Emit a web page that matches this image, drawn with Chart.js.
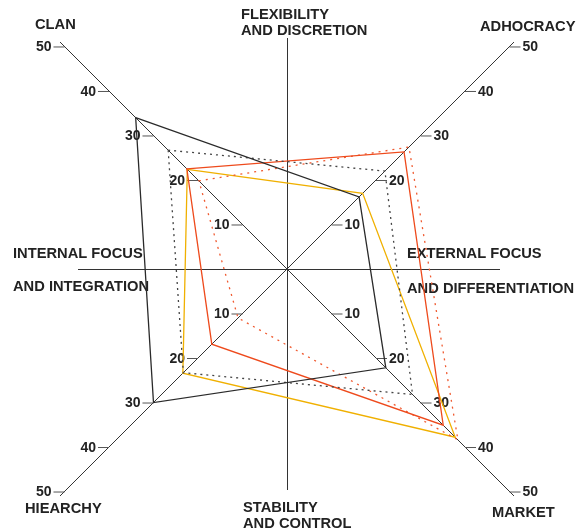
<!DOCTYPE html>
<html lang="en">
<head>
  <meta charset="UTF-8" />
  <title>Competing values profile</title>
  <style>
    * { box-sizing: border-box; margin: 0; padding: 0; }
    body { background: #ffffff; }
    .wrap { width: 578px; height: 531px; position: relative; }
  </style>
</head>
<body>
  <div class="wrap"><canvas id="cvf"></canvas></div>

  <script src="https://cdn.jsdelivr.net/npm/chart.js"></script>
  <script>
    // axes go clockwise from top-left
    const axes = ['CLAN', 'ADHOCRACY', 'MARKET', 'HIEARCHY'];
    const tickValues = [10, 20, 30, 40, 50];

    const blackSolid  = [34, 16.2, 22.2, 30];
    const blackDotted = [26.7, 22, 28.2, 23.3];
    const redSolid    = [22.5, 26.3, 35.1, 16.9];
    const redDotted   = [19.8, 27.4, 38.4, 11];
    const yellowSolid = [22.4, 17, 37.8, 23.4];

    const FONT = 'bold 14.7px "Liberation Sans", Arial, sans-serif';
    const TICK_FONT = 'bold 14px "Liberation Sans", Arial, sans-serif';

    // label text, left aligned, [text, x, baseline]
    const textItems = [
      ['CLAN', 35, 29],
      ['ADHOCRACY', 480, 31],
      ['MARKET', 492, 517],
      ['HIEARCHY', 25, 513],
      ['FLEXIBILITY', 241, 19],
      ['AND DISCRETION', 241, 35],
      ['STABILITY', 243, 512],
      ['AND CONTROL', 243, 528],
      ['INTERNAL FOCUS', 13, 258],
      ['AND INTEGRATION', 13, 291],
      ['EXTERNAL FOCUS', 407, 258],
      ['AND DIFFERENTIATION', 407, 293]
    ];

    const decor = {
      id: 'decor',
      beforeDatasetsDraw(chart) {
        const ctx = chart.ctx;
        const r = chart.scales.r;
        const cx = r.xCenter, cy = r.yCenter;
        ctx.save();

        // cross lines
        ctx.strokeStyle = '#333';
        ctx.lineWidth = 1;
        ctx.beginPath();
        ctx.moveTo(78, cy + 0.5); ctx.lineTo(500, cy + 0.5);
        ctx.moveTo(cx + 0.5, 38); ctx.lineTo(cx + 0.5, 490);
        ctx.stroke();

        // ticks on every axis
        ctx.font = TICK_FONT;
        ctx.textBaseline = 'middle';
        axes.forEach((a, i) => {
          const leftSide = (i === 0 || i === 3);
          tickValues.forEach(v => {
            const p = r.getPointPositionForValue(i, v);
            const dir = leftSide ? -1 : 1;
            ctx.strokeStyle = '#555';
            ctx.beginPath();
            ctx.moveTo(p.x, p.y + 0.5);
            ctx.lineTo(p.x + dir * 11, p.y + 0.5);
            ctx.stroke();
            ctx.fillStyle = '#222';
            ctx.textAlign = leftSide ? 'right' : 'left';
            ctx.fillText(String(v), p.x + dir * 13, p.y + 1);
          });
        });

        ctx.font = FONT;
        ctx.textAlign = 'left';
        ctx.textBaseline = 'alphabetic';
        ctx.fillStyle = '#222';
        textItems.forEach(t => ctx.fillText(t[0], t[1], t[2]));
        ctx.restore();
      }
    };

    const line = (label, data, color, dash) => ({
      label: label,
      data: data,
      borderColor: color,
      borderWidth: 1.3,
      borderDash: dash,
      fill: false,
      pointRadius: 0,
      tension: 0
    });

    new Chart(document.getElementById('cvf'), {
      type: 'radar',
      data: {
        labels: axes,
        datasets: [
          line('Black solid', blackSolid, '#2a2a2a', []),
          line('Black dotted', blackDotted, '#444', [2, 4]),
          line('Red solid', redSolid, '#ee4a1c', []),
          line('Red dotted', redDotted, '#f05a30', [2, 5]),
          line('Yellow solid', yellowSolid, '#f0b000', [])
        ]
      },
      options: {
        responsive: true,
        maintainAspectRatio: false,
        animation: false,
        plugins: { legend: { display: false }, tooltip: { enabled: false } },
        scales: {
          r: {
            min: 0,
            max: 51,
            startAngle: -45,
            grid: { display: false },
            angleLines: { color: '#333', lineWidth: 1 },
            ticks: { display: false, stepSize: 10 },
            pointLabels: { display: false },
            // the diagonal axes reach past the square canvas, so widen the radius
            afterFit(scale) {
              scale.xCenter = 287;
              scale.yCenter = 269;
              scale.drawingArea = 321;
            }
          }
        }
      },
      plugins: [decor]
    });
  </script>
</body>
</html>
